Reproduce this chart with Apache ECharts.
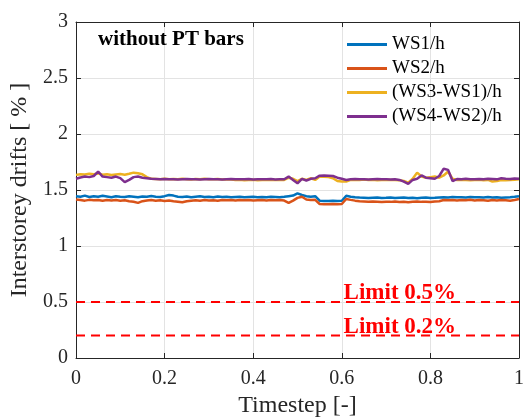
<!DOCTYPE html>
<html>
<head>
<meta charset="utf-8">
<script src="https://cdn.jsdelivr.net/npm/echarts@6/dist/echarts.min.js"></script>
<style>
  html, body { margin: 0; padding: 0; background: #fff; }
  #chart { width: 524px; height: 417px; }
</style>
</head>
<body>
<div id="chart"></div>
<script>
// drift values, one per timestep (0 .. 1)
const ws1 = [
  1.445,1.44,1.45,1.438,1.445,1.44,1.448,1.442,1.436,1.444,1.44,
  1.438,1.445,1.44,1.435,1.442,1.44,1.446,1.44,1.438,1.445,1.455,
  1.45,1.44,1.438,1.442,1.436,1.44,1.444,1.438,1.44,1.436,1.442,1.438,
  1.44,1.436,1.438,1.44,1.436,1.438,1.44,1.436,1.438,1.435,1.44,1.438,1.436,1.44,
  1.445,1.45,1.47,1.455,1.445,1.44,1.445,
  1.405,1.402,1.402,1.403,1.402,1.404,
  1.448,1.44,1.435,1.432,1.43,1.428,
  1.43,1.432,1.428,1.43,1.433,1.428,1.43,1.432,1.428,1.43,1.426,1.43,1.432,1.428,1.43,1.434,
  1.436,1.434,1.438,1.435,1.436,1.434,1.438,1.435,1.436,1.433,1.437,1.434,1.436,1.43,1.434,1.436,1.44,1.445
];
const ws2 = [
  1.415,1.41,1.405,1.412,1.408,1.41,1.404,1.41,1.406,1.41,1.405,
  1.408,1.4,1.395,1.385,1.4,1.406,1.41,1.404,1.408,1.402,1.406,
  1.4,1.396,1.39,1.4,1.405,1.408,1.404,1.41,1.406,1.408,1.405,1.41,
  1.408,1.41,1.406,1.41,1.408,1.41,1.406,1.408,1.41,1.407,1.41,1.408,1.41,1.406,
  1.385,1.405,1.43,1.44,1.415,1.41,1.412,
  1.375,1.372,1.372,1.374,1.372,1.375,
  1.42,1.412,1.405,1.4,1.398,1.396,
  1.398,1.395,1.392,1.396,1.394,1.398,1.392,1.396,1.39,1.395,1.398,1.394,1.396,1.392,1.397,1.4,
  1.41,1.408,1.41,1.406,1.41,1.408,1.412,1.406,1.41,1.408,1.404,1.41,1.406,1.41,1.408,1.405,1.41,1.42
];
const ws3m1 = [
  1.635,1.64,1.638,1.645,1.64,1.648,1.636,1.64,1.634,1.638,1.642,1.636,1.645,1.655,1.65,1.64,
  1.615,1.6,
  1.598,1.596,1.6,1.595,1.598,1.596,1.6,1.597,1.594,1.598,1.596,1.6,1.597,1.595,1.598,
  1.594,1.596,1.593,1.59,1.592,1.588,1.59,1.592,1.588,1.59,1.592,1.589,1.59,1.592,1.59,
  1.61,1.6,1.58,1.6,1.59,1.605,1.59,
  1.62,1.618,1.615,1.605,1.58,1.575,1.576,
  1.59,1.592,1.59,1.594,1.59,1.592,1.588,1.59,1.592,1.589,1.59,1.588,
  1.58,1.565,1.6,1.655,1.62,1.61,1.615,1.62,1.61,1.63,1.665,1.6,
  1.59,1.592,1.59,1.588,1.59,1.592,1.588,1.59,1.575,1.58,1.59,1.588,1.59,1.592,1.595
];
const ws4m2 = [
  1.6,1.612,1.62,1.615,1.625,1.665,1.62,1.615,1.61,1.62,1.606,1.57,1.59,1.615,1.62,1.61,
  1.605,1.6,
  1.598,1.596,1.598,1.595,1.597,1.594,1.596,1.598,1.595,1.597,1.594,1.596,1.598,1.595,1.597,
  1.594,1.596,1.598,1.595,1.597,1.596,1.598,1.594,1.597,1.595,1.596,1.598,1.594,1.597,1.596,
  1.62,1.59,1.56,1.6,1.585,1.6,1.605,
  1.628,1.63,1.628,1.625,1.61,1.6,1.59,
  1.596,1.598,1.595,1.597,1.594,1.596,1.598,1.595,1.597,1.594,1.596,1.59,
  1.575,1.555,1.59,1.6,1.63,1.61,1.605,1.6,1.625,1.69,1.68,1.58,
  1.598,1.596,1.6,1.597,1.595,1.598,1.596,1.6,1.598,1.595,1.605,1.6,1.598,1.602,1.6
];
const seriesNames = ['WS1/h', 'WS2/h', '(WS3-WS1)/h', '(WS4-WS2)/h'];
const seriesColors = ['#0072BD', '#D95319', '#EDB120', '#7E2F8E'];
const limits = [0.5, 0.2];
const limitLabels = ['Limit 0.5%', 'Limit 0.2%'];
const limitLabelX = 0.731;

const serif = '"Liberation Serif", "DejaVu Serif", serif';
const axisColor = '#262626';

// pair each value with its timestep
function toPoints(vals) {
  return vals.map((v, i) => [i / (vals.length - 1), v]);
}

const chart = echarts.init(document.getElementById('chart'), null, { renderer: 'canvas' });

const lineSeries = [ws1, ws2, ws3m1, ws4m2].map((vals, k) => ({
  name: seriesNames[k],
  type: 'line',
  data: toPoints(vals),
  symbol: 'none',
  lineStyle: { width: 2.5, color: seriesColors[k] },
  itemStyle: { color: seriesColors[k] },
  z: 3 + k
}));

const limitSeries = limits.map((lim, k) => ({
  name: limitLabels[k],
  type: 'line',
  data: [[0, lim], [1, lim]],
  symbol: 'none',
  lineStyle: { width: 2, color: '#FF0000', type: [9, 6] },
  z: 2,
  markPoint: {
    symbol: 'circle',
    symbolSize: 0,
    data: [{ coord: [limitLabelX, lim] }],
    label: {
      show: true,
      position: 'inside',
      offset: [0, -9],
      formatter: limitLabels[k],
      color: '#FF0000',
      fontFamily: serif,
      fontWeight: 'bold',
      fontSize: 23
    }
  }
}));

const boxAxis = {
  min: 0,
  axisLine: { show: true, onZero: false, lineStyle: { color: axisColor, width: 1 } },
  axisTick: { show: true, inside: true, length: 5, lineStyle: { color: axisColor } },
  axisLabel: { show: false },
  splitLine: { show: false }
};

chart.setOption({
  animation: false,
  backgroundColor: '#fff',
  title: {
    text: 'without PT bars',
    left: 98,
    top: 29,
    padding: 0,
    textStyle: { fontFamily: serif, fontWeight: 'bold', fontSize: 21, color: '#000' }
  },
  legend: {
    data: seriesNames,
    orient: 'vertical',
    left: 347,
    top: 35,
    padding: 0,
    itemGap: 5,
    itemWidth: 40,
    itemHeight: 3,
    icon: 'rect',
    textStyle: { fontFamily: serif, fontSize: 19, color: '#000' }
  },
  grid: { left: 76, right: 5, top: 22, bottom: 59, outerBoundsMode: 'none', containLabel: false },
  xAxis: [
    {
      type: 'value',
      min: 0,
      max: 1,
      interval: 0.2,
      name: 'Timestep [-]',
      nameLocation: 'middle',
      nameGap: 32,
      nameTextStyle: { fontFamily: serif, fontSize: 24, color: axisColor },
      axisLine: { show: true, onZero: false, lineStyle: { color: axisColor, width: 1 } },
      axisTick: { show: true, inside: true, length: 5, lineStyle: { color: axisColor } },
      axisLabel: { fontFamily: serif, fontSize: 20, color: axisColor, margin: 11 },
      splitLine: { show: true, lineStyle: { color: '#e3e3e3', width: 1 } }
    },
    Object.assign({ type: 'value', position: 'top', max: 1, interval: 0.2 }, boxAxis)
  ],
  yAxis: [
    {
      type: 'value',
      min: 0,
      max: 3,
      interval: 0.5,
      name: 'Interstorey drifts [ % ]',
      nameLocation: 'middle',
      nameGap: 31,
      nameTextStyle: { fontFamily: serif, fontSize: 24, color: axisColor },
      axisLine: { show: true, onZero: false, lineStyle: { color: axisColor, width: 1 } },
      axisTick: { show: true, inside: true, length: 5, lineStyle: { color: axisColor } },
      axisLabel: { fontFamily: serif, fontSize: 20, color: axisColor, margin: 8 },
      splitLine: { show: true, lineStyle: { color: '#e3e3e3', width: 1 } }
    },
    Object.assign({ type: 'value', position: 'right', max: 3, interval: 0.5 }, boxAxis)
  ],
  series: limitSeries.concat(lineSeries)
});
</script>
</body>
</html>
